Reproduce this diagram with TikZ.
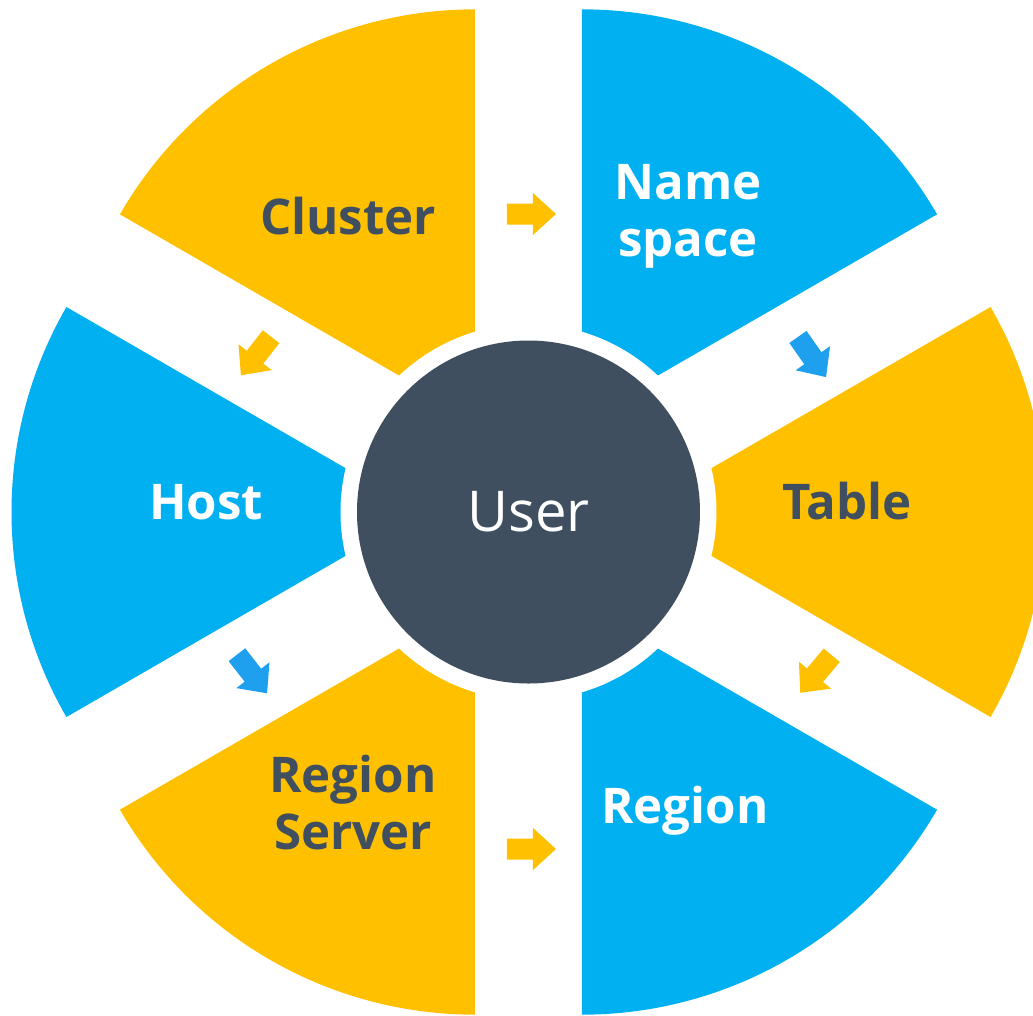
\documentclass[tikz,border=0pt]{standalone}
\usepackage{fontspec}
\setmainfont{Open Sans}

\definecolor{wedgeorange}{HTML}{FFC000}
\definecolor{wedgeblue}{HTML}{00B0F0}
\definecolor{arrowblue}{HTML}{1FA0EE}
\definecolor{userdark}{HTML}{3F4F5F}

\tikzset{
	darktext/.style={font=\bfseries\fontsize{14}{16.2}\selectfont, text=userdark, align=center},
	whitetext/.style={font=\bfseries\fontsize{14}{16.2}\selectfont, text=white, align=center},
	flowarrow/.pic={
		\fill (-0.245,-0.105) -- (0.015,-0.105) -- (0.015,-0.21) -- (0.245,0)
		      -- (0.015,0.21) -- (0.015,0.105) -- (-0.245,0.105) -- cycle;
	}
}

\begin{document}
\begin{tikzpicture}
	\useasboundingbox (-5.285,-5.03) rectangle (5.045,5.12);
	\clip (-5.285,-5.03) rectangle (5.045,5.12);

	% exploded wedges
	\fill[wedgeorange] (120:1.07) -- ++(150:4.1) arc[start angle=150, end angle=90, radius=4.1] -- cycle;
	\fill[wedgeblue] (60:1.07) -- ++(90:4.1) arc[start angle=90, end angle=30, radius=4.1] -- cycle;
	\fill[wedgeorange] (0:1.07) -- ++(30:4.1) arc[start angle=30, end angle=-30, radius=4.1] -- cycle;
	\fill[wedgeblue] (-60:1.07) -- ++(-30:4.1) arc[start angle=-30, end angle=-90, radius=4.1] -- cycle;
	\fill[wedgeorange] (-120:1.07) -- ++(-90:4.1) arc[start angle=-90, end angle=-150, radius=4.1] -- cycle;
	\fill[wedgeblue] (180:1.07) -- ++(210:4.1) arc[start angle=210, end angle=150, radius=4.1] -- cycle;

	% centre
	\fill[white] (0,0) circle (1.88);
	\node[circle, fill=userdark, inner sep=0pt, minimum size=3.43cm, text=white, font=\fontsize{16}{19}\selectfont] (user) at (0,0) {User};

	\node[darktext, anchor=base] (cluster) at (-1.805,2.78) {Cluster};
	\node[whitetext] (namespace) at (1.595,2.96) {Name\\space};
	\node[darktext, anchor=base] (table) at (3.185,-0.07) {Table};
	\node[whitetext, anchor=base] (region) at (1.565,-3.11) {Region};
	\node[darktext] (regionserver) at (-1.755,-2.91) {Region\\Server};
	\node[whitetext, anchor=base] (host) at (-3.225,-0.07) {Host};

	% arrows
	\pic[wedgeorange] (toNamespace) at (0.03,2.98) {flowarrow};
	\pic[arrowblue, rotate=-55] (toTable) at (2.835,1.55) {flowarrow};
	\pic[wedgeorange, rotate=-130] (toRegion) at (2.875,-1.62) {flowarrow};
	\pic[wedgeorange] (toRegionB) at (0.03,-3.37) {flowarrow};
	\pic[arrowblue, rotate=-52] (toRegionServer) at (-2.765,-1.62) {flowarrow};
	\pic[wedgeorange, rotate=-128] (toHost) at (-2.725,1.56) {flowarrow};
\end{tikzpicture}
\end{document}
